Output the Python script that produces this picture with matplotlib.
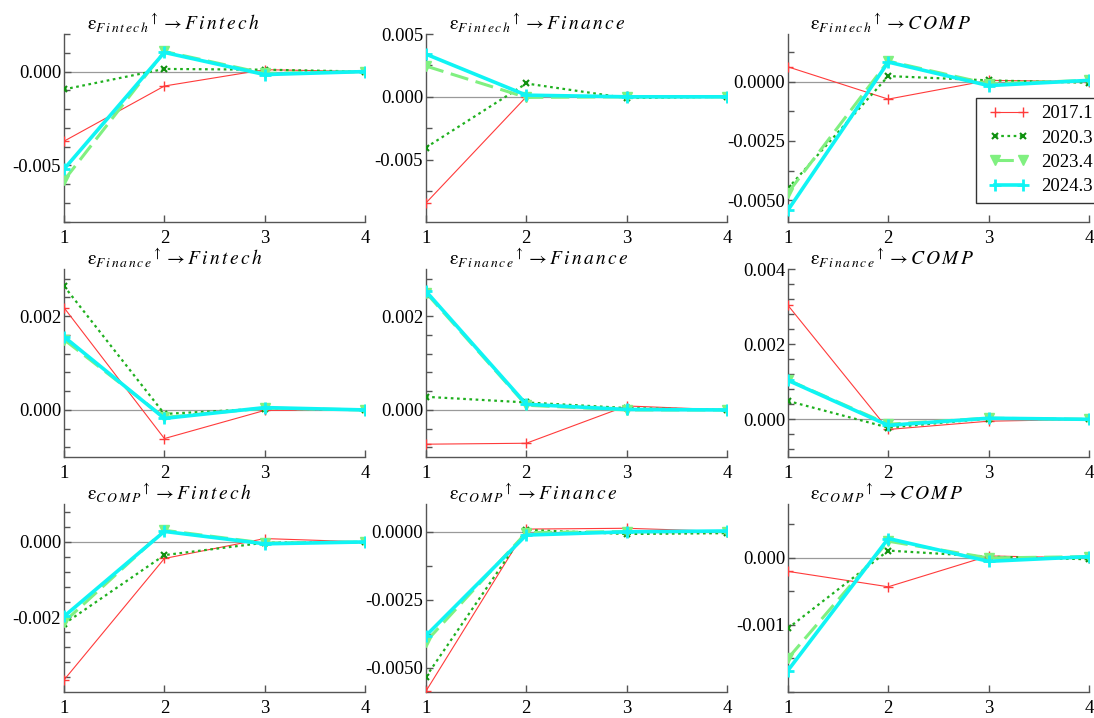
import matplotlib
matplotlib.use("Agg")
import matplotlib.pyplot as plt
from matplotlib.lines import Line2D
from matplotlib.legend_handler import HandlerLine2D
from matplotlib.ticker import MultipleLocator, FixedLocator, FormatStrFormatter

plt.rcParams['font.family'] = ['Liberation Serif', 'DejaVu Serif']
plt.rcParams['mathtext.fontset'] = 'stix'
plt.rcParams['axes.unicode_minus'] = False

# --- data ---
periods = [1, 2, 3, 4]
shocks = ['Fintech', 'Finance', 'COMP']
responses = ['Fintech', 'Finance', 'COMP']
years = ['2017.1', '2020.3', '2023.4', '2024.3']

# one row per panel: shock row by row, response column by column
irf_2017_1 = [
    [-0.00371, -0.00077, 0.00010, 0.0],
    [-0.00846, 0.00000, 0.00005, 0.0],
    [0.00062, -0.00074, 0.00005, 0.0],
    [0.00218, -0.00061, -0.00001, 0.0],
    [-0.00073, -0.00071, 0.000085, 0.0],
    [0.00304, -0.00027, -0.00005, 0.0],
    [-0.00367, -0.00044, 0.00009, 0.0],
    [-0.00587, 0.00009, 0.00012, 0.0],
    [-0.00020, -0.00043, 0.00003, 0.0],
]
irf_2020_3 = [
    [-0.00095, 0.00014, 0.00010, 0.0],
    [-0.00404, 0.00106, -0.00010, 0.0],
    [-0.00450, 0.00023, 0.00005, -0.00005],
    [0.00264, -0.000085, 0.00003, 0.0],
    [0.00028, 0.00016, 0.00004, 0.0],
    [0.00049, -0.00022, 0.00002, 0.0],
    [-0.00218, -0.00035, -0.00002, 0.0],
    [-0.00534, 0.00006, -0.00009, -0.00006],
    [-0.00105, 0.00011, 0.00002, -0.00002],
]
irf_2023_4 = [
    [-0.00580, 0.00107, -0.00010, 0.0],
    [0.00245, -0.00005, 0.00000, 0.0],
    [-0.00469, 0.00086, -0.00010, 0.00005],
    [0.00150, -0.00016, 0.00004, 0.0],
    [0.00250, 0.00010, 0.00000, 0.0],
    [0.00105, -0.00013, 0.00003, 0.0],
    [-0.00213, 0.00031, -0.00003, 0.0],
    [-0.00405, -0.00004, 0.00000, 0.0],
    [-0.00150, 0.00025, 0.00000, 0.00002],
]
irf_2024_3 = [
    [-0.00520, 0.00102, -0.00016, 0.0],
    [0.00340, 0.00013, 0.00000, 0.0],
    [-0.00542, 0.00082, -0.00017, 0.00005],
    [0.00156, -0.00018, 0.00005, 0.0],
    [0.00253, 0.00012, 0.00001, 0.0],
    [0.00104, -0.00016, 0.00003, 0.0],
    [-0.00198, 0.00028, -0.00005, 0.0],
    [-0.00383, -0.00013, -0.00001, 0.00002],
    [-0.00168, 0.00029, -0.00005, 0.00002],
]

# y axis per panel: limits, labelled ticks, minor step, decimals
y_limits = [(-0.008, 0.002), (-0.00995, 0.005), (-0.0059, 0.002),
            (-0.001, 0.003), (-0.001, 0.003), (-0.001, 0.004),
            (-0.00399, 0.001), (-0.0059, 0.001), (-0.002, 0.0008)]
y_major = [[-0.005, 0.0], [-0.005, 0.0, 0.005], [-0.005, -0.0025, 0.0],
           [0.0, 0.002], [0.0, 0.002], [0.0, 0.002, 0.004],
           [-0.002, 0.0], [-0.005, -0.0025, 0.0], [-0.001, 0.0]]
y_minor = [0.001, 0.0025, 0.00125, 0.0004, 0.0004, 0.0004, 0.0004, 0.00125, 0.0005]
y_decimals = [3, 3, 4, 3, 3, 3, 3, 4, 3]

# --- styles ---
styles = [
    dict(color='#ff3b3b', lw=0.8, ls='-', marker='+', ms=7, mew=1.0, zorder=3),
    dict(color='#1fb01f', lw=1.6, ls=(0, (1.2, 1.6)), marker='x', ms=5, mew=1.5,
         mec='#109010', zorder=4),
    dict(color='#80f080', lw=2.2, ls=(0, (6, 2.5)), marker='v', ms=7, mew=1.0, zorder=5),
    dict(color='#10f4f4', lw=2.6, ls='-', marker='+', ms=8, mew=2.0, zorder=6),
]
all_series = [irf_2017_1, irf_2020_3, irf_2023_4, irf_2024_3]


def spaced(word):
    # letter-spaced italic word, like the original figure
    return r'\,'.join(word)


fig = plt.figure(figsize=(10.94, 7.18), dpi=100)
gs = fig.add_gridspec(3, 3, left=0.0585, right=0.9954, top=0.9526, bottom=0.0362,
                      wspace=0.202, hspace=0.253)

spine_col = '#555555'
for i in range(9):
    r, c = divmod(i, 3)
    ax = fig.add_subplot(gs[r, c])
    ax.axhline(0, color='#9a9a9a', lw=0.9, zorder=1)
    for series, st, lab in zip(all_series, styles, years):
        ax.plot(periods, series[i], label=lab, **st)

    ax.set_xlim(1, 4)
    ax.set_ylim(*y_limits[i])
    ax.set_xticks(periods)
    ax.yaxis.set_major_locator(FixedLocator(y_major[i]))
    ax.yaxis.set_minor_locator(MultipleLocator(y_minor[i]))
    ax.yaxis.set_major_formatter(FormatStrFormatter('%%.%df' % y_decimals[i]))

    for s in ['top', 'right']:
        ax.spines[s].set_visible(False)
    for s in ['left', 'bottom']:
        ax.spines[s].set_color(spine_col)
        ax.spines[s].set_linewidth(1.0)
    ax.tick_params(axis='both', which='both', direction='in', color=spine_col,
                   labelsize=13.5, width=1.0)
    ax.tick_params(axis='both', which='major', length=5)
    ax.tick_params(axis='y', which='minor', length=4)
    ax.tick_params(axis='y', pad=2)
    ax.tick_params(axis='x', pad=6)

    title = r'$\mathrm{\varepsilon}_{%s}{}^{\uparrow}\rightarrow %s$' % (
        spaced(shocks[r]), spaced(responses[c]))
    ax.annotate(title, xy=(0.075, 1.0), xycoords='axes fraction', xytext=(0, 3),
                textcoords='offset points', ha='left', va='baseline', fontsize=14)

    if i == 2:
        ax.legend(loc='upper left', bbox_to_anchor=(0.625, 0.66), fontsize=13.5,
                  frameon=True, fancybox=False, edgecolor='#333333', framealpha=1,
                  handlelength=2.7, numpoints=2, borderpad=0.4, labelspacing=0.38,
                  handletextpad=0.35, borderaxespad=0,
                  handler_map={Line2D: HandlerLine2D(marker_pad=0.6)})

fig.savefig('out.png', dpi=100)
